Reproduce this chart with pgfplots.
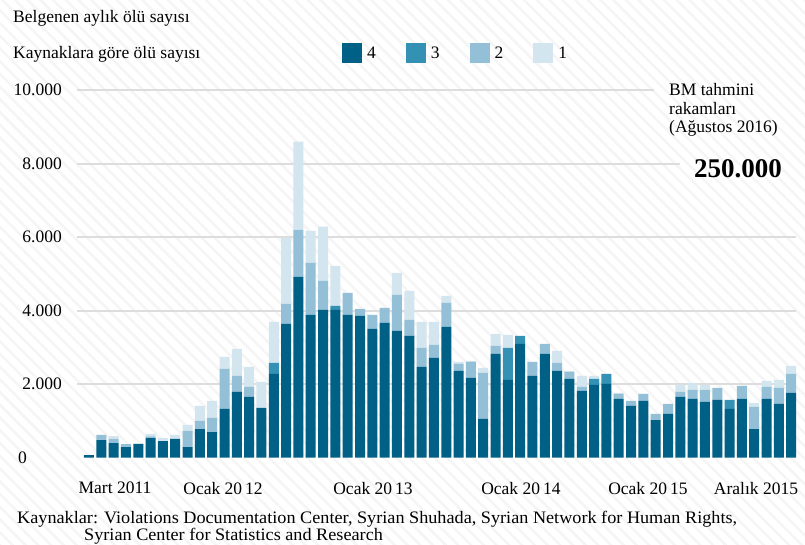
\documentclass[border=0pt]{standalone}
\usepackage{fontspec}
\setmainfont{Liberation Serif}
\newfontfamily\srcfont[FakeStretch=1.04]{Liberation Serif}
\usepackage{pgfplots}
\usepackage{pgfplotstable}
\pgfplotsset{compat=1.18}
\usetikzlibrary{patterns.meta}

\definecolor{c4}{RGB}{0,96,134}
\definecolor{c3}{RGB}{51,145,180}
\definecolor{c2}{RGB}{147,192,214}
\definecolor{c1}{RGB}{211,230,239}
\definecolor{gridc}{RGB}{221,221,221}
\newcommand\fs{\fontsize{17.5}{20}\selectfont}

% monthly deaths, Mar 2011 - Dec 2015, by number of sources (4,3,2,1)
\pgfplotstableread{
i  a    b    c    d
0  70   0    0    0
1  480  0    140  0
2  400  0    110  80
3  290  0    80   0
4  372  0    0    28
5  536  0    45   64
6  454  0    0    82
7  509  0    0    109
8  290  0    437  163
9  781  0    218  409
10 699  0    382  463
11 1326 0    1090 327
12 1789 0    436  736
13 1653 0    273  545
14 1353 0    0    709
15 2280 300  0    1117
16 3642 0    545  1799
17 4923 0    1281 2398
18 3888 0    1417 872
19 4024 0    790  1472
20 4024 109  0    1090
21 3888 0    599  0
22 3860 0    191  0
23 3506 0    382  0
24 3670 0    408  0
25 3452 0    980  600
26 3315 0    436  791
27 2471 0    517  709
28 2716 0    354  627
29 3561 0    654  190
30 2362 0    190  55
31 2171 0    436  27
32 1054 0    1253 136
33 2825 0    218  327
34 2116 872  0    355
35 3097 218  0    0
36 2225 0    382  0
37 2825 0    272  0
38 2362 0    218  327
39 2144 0    190  28
40 1817 0    109  299
41 1980 164  0    81
42 2007 273  0    0
43 1599 0    136  27
44 1408 0    136  0
45 1544 0    191  0
46 1026 0    164  0
47 1190 0    272  0
48 1653 0    136  191
49 1599 0    245  191
50 1517 0    327  136
51 1571 0    327  0
52 1326 245  0    0
53 1599 0    354  0
54 781  0    600  109
55 1599 0    327  163
56 1462 0    436  218
57 1762 0    518  218
}\deaths

\begin{document}
\begin{tikzpicture}[x=1pt,y=1pt]
\useasboundingbox (0,0) rectangle (805,545);
\fill[white] (0,0) rectangle (805,545);
\fill[pattern={Lines[angle=-45,distance=9pt,line width=2.5pt]}, pattern color=black!4] (0,0) rectangle (805,545);

% grid lines, drawn first so the bars sit on top
\draw[gridc, line width=2pt] (77,160.78) -- (796,160.78);
\draw[gridc, line width=2pt] (77,234.26) -- (796,234.26);
\draw[gridc, line width=2pt] (77,307.74) -- (796,307.74);
\draw[gridc, line width=2pt] (77,381.22) -- (680,381.22);
\draw[gridc, line width=2pt] (77,454.7) -- (654,454.7);

\begin{axis}[
    at={(77pt,87.3pt)}, anchor=south west,
    scale only axis, width=719pt, height=367.4pt,
    xmin=-0.974, xmax=57.39, ymin=0, ymax=10000,
    clip=false,
    axis line style={draw=none},
    major tick length=0pt,
    scaled y ticks=false,
    ybar stacked, bar width=10pt,
    ytick={2000,4000,...,10000},
    yticklabels={2.000,4.000,6.000,8.000,10.000},
    yticklabel style={anchor=east, inner sep=0pt, xshift=-15pt, font=\fs},
    extra y ticks={0}, extra y tick labels={0},
    extra y tick style={yticklabel style={anchor=west, xshift=-44pt}},
    xtick={2.11,10.88,23.05,35.06,45.37,54.14},
    xticklabels={Mart 2011,Ocak 20\,12,Ocak 20\,13,Ocak 20\,14,Ocak 20\,15,Aralık 2015},
    xticklabel style={anchor=north, inner sep=0pt, yshift=-24pt, font=\fs},
    legend columns=4,
    legend style={at={(0.3686,1.1002)}, anchor=west, draw=none, fill=none,
        font=\fs, inner sep=0pt,
        nodes={inner sep=0pt},
        /tikz/every odd column/.append style={column sep=5pt},
        /tikz/every even column/.append style={column sep=30pt}},
    legend image code/.code={\draw[#1,draw=none] (0pt,-10pt) rectangle (20pt,10pt);},
]
\addplot[fill=c4, draw=none] table[x=i,y=a] {\deaths};
\addplot[fill=c3, draw=none] table[x=i,y=b] {\deaths};
\addplot[fill=c2, draw=none] table[x=i,y=c] {\deaths};
\addplot[fill=c1, draw=none] table[x=i,y=d] {\deaths};
\legend{4,3,2,1}
\end{axis}

\node[anchor=base west, inner sep=0pt, font=\fs] at (13,522.5) {Belgenen aylık ölü sayısı};
\node[anchor=base west, inner sep=0pt, font=\fs] at (13,486.5) {Kaynaklara göre ölü sayısı};
\node[anchor=base west, inner sep=0pt, font=\fs] at (669,449) {BM tahmini};
\node[anchor=base west, inner sep=0pt, font=\fs] at (669,430) {rakamları};
\node[anchor=base west, inner sep=0pt, font=\fs] at (669,412) {(Ağustos 2016)};
\node[anchor=base east, inner sep=0pt, font=\bfseries\fontsize{27}{30}\selectfont] at (782,367) {250.000};
\node[anchor=base west, inner sep=0pt, font=\srcfont\fs] at (17,21) {Kaynaklar: Violations Documentation Center, Syrian Shuhada, Syrian Network for Human Rights,};
\node[anchor=base west, inner sep=0pt, font=\srcfont\fs] at (84,4) {Syrian Center for Statistics and Research};
\end{tikzpicture}
\end{document}
